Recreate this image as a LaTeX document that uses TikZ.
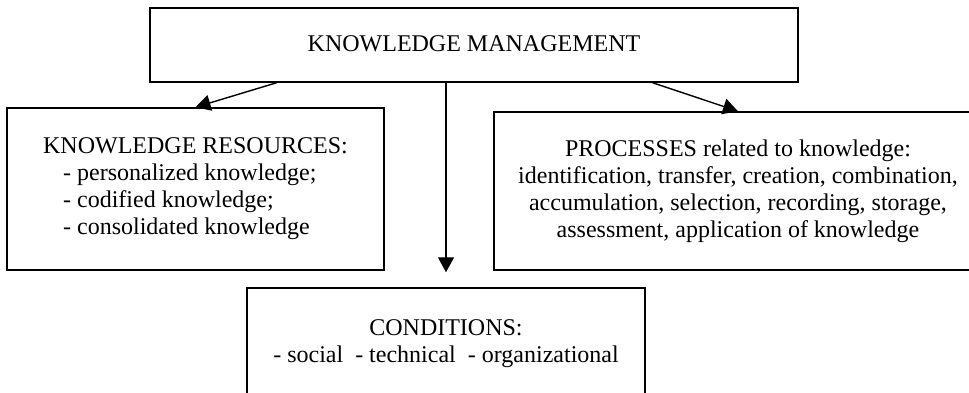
\documentclass[tikz,border=0pt]{standalone}
\usepackage{fontspec}
\setmainfont{Liberation Serif}
\usepackage{tikz}
\usetikzlibrary{arrows.meta}
\usetikzlibrary{calc}
\usetikzlibrary{positioning}

\begin{document}
\begin{tikzpicture}[x=1pt,y=-1pt,>={Triangle[length=15pt,width=16pt]},
    box/.style={draw,line width=1.5pt,inner sep=0pt,font=\fontsize{24}{27}\selectfont},
    link/.style={->,line width=1.4pt}]
      \useasboundingbox (0,0) rectangle (969,392);
      \clip (0,0) rectangle (969,392);

      % Kaesten
      \node[box,minimum width=648pt,minimum height=74pt,text depth=3pt] (km) at (474,45) {KNOWLEDGE MANAGEMENT};
      \node[box,minimum width=377pt,minimum height=162pt,align=left] (res) at (195.5,189)
        {KNOWLEDGE RESOURCES:\\
         \hspace*{20pt}- personalized knowledge;\\
         \hspace*{20pt}- codified knowledge;\\
         \hspace*{20pt}- consolidated knowledge};
      \node[box,minimum width=488pt,minimum height=158pt,align=center] (proc) at (738,191)
        {PROCESSES related to knowledge:\\
         identification, transfer, creation, combination,\\
         accumulation, selection, recording, storage,\\
         assessment, application of knowledge};
      \node[box,minimum width=398pt,minimum height=112pt,align=center] (cond) at (446,344)
        {CONDITIONS:\\
         - social\ \ - technical\ \ - organizational};

      % Pfeile
      \draw[link] ($(km.south west)!0.196!(km.south east)$) -- (res.north);
      \draw[link] ($(km.south west)!0.775!(km.south east)$) -- (proc.north);
      \draw[link,shorten >=15pt] (km.south -| cond.north) -- (cond.north);
\end{tikzpicture}
\end{document}
